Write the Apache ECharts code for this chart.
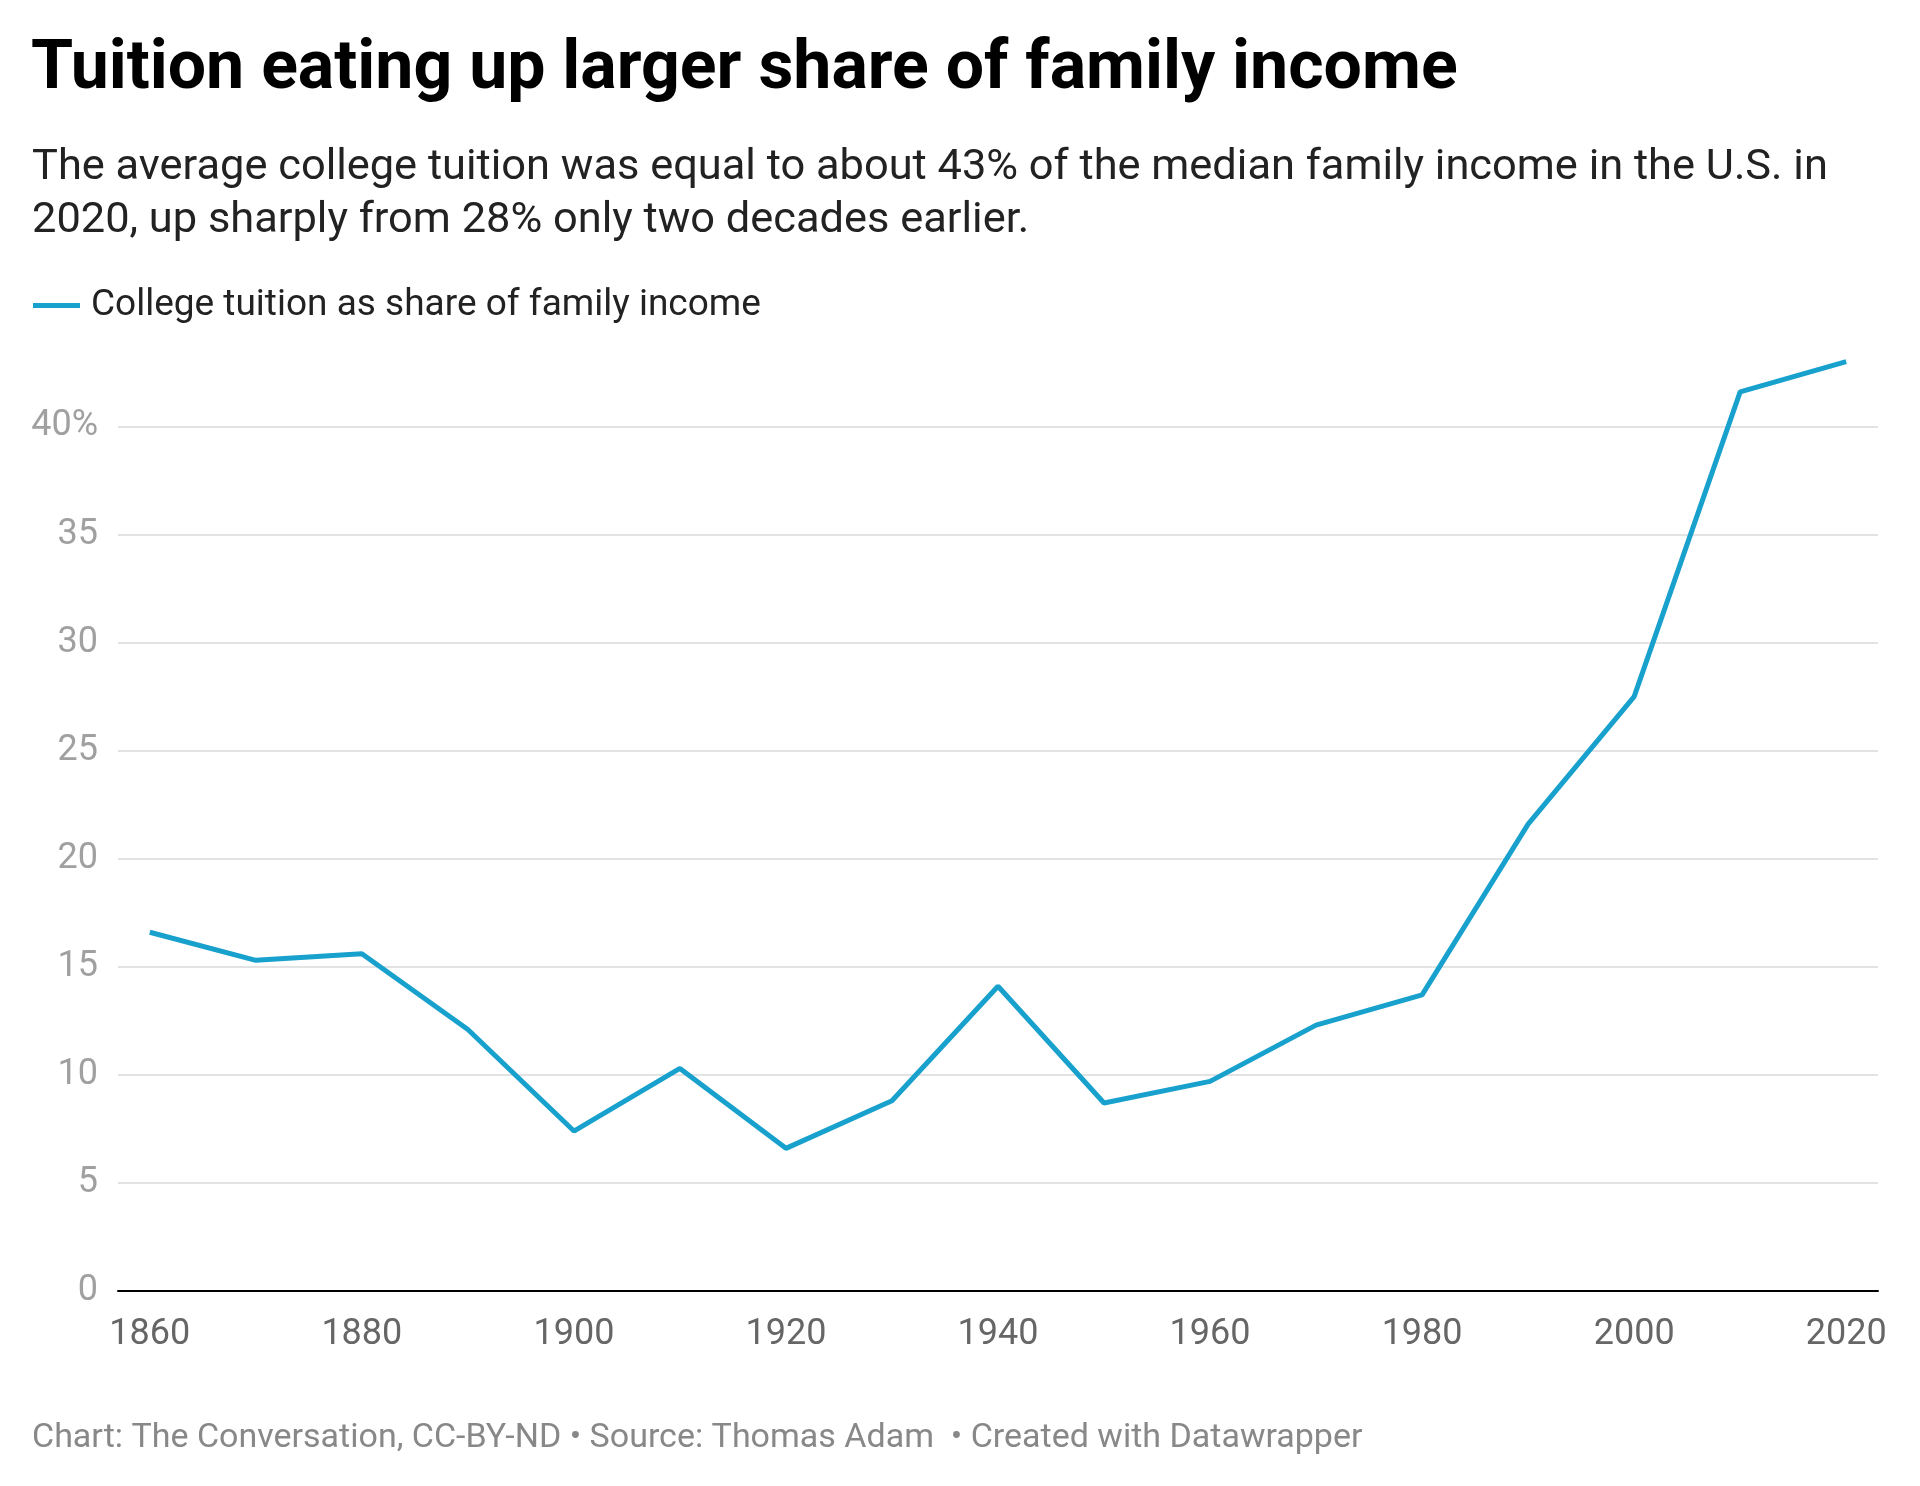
<!DOCTYPE html>
<html>
<head>
<meta charset="utf-8">
<script src="https://cdn.jsdelivr.net/npm/echarts@6/dist/echarts.min.js"></script>
<style>
html,body{margin:0;padding:0;background:#fff;}
#chart{width:1920px;height:1486px;}
</style>
</head>
<body>
<div id="chart"></div>
<script>
const years = [1860,1870,1880,1890,1900,1910,1920,1930,1940,1950,1960,1970,1980,1990,2000,2010,2020];
const tuitionShare = [16.6,15.3,15.6,12.1,7.4,10.3,6.6,8.8,14.1,8.7,9.7,12.3,13.7,21.6,27.5,41.6,43.0];
const xTickLabels = [1860,1880,1900,1920,1940,1960,1980,2000,2020];
const seriesName = 'College tuition as share of family income';
const titleText = 'Tuition eating up larger share of family income';
const subtitleText = 'The average college tuition was equal to about 43% of the median family income in the U.S. in\n2020, up sharply from 28% only two decades earlier.';
const footerText = 'Chart: The Conversation, CC-BY-ND \u2022 Source: Thomas Adam  \u2022 Created with Datawrapper';

const chart = echarts.init(document.getElementById('chart'), null, {renderer:'canvas'});
const FONT = 'Roboto';
chart.setOption({
  backgroundColor:'#fff',
  animation:false,
  textStyle:{fontFamily:FONT},
  title:[
    {text:titleText,left:31,top:37,padding:0,textStyle:{fontFamily:FONT,fontSize:68,fontWeight:'bold',color:'#000'}},
    {text:subtitleText,left:32,top:142,padding:0,textStyle:{fontFamily:FONT,fontSize:43.4,fontWeight:'normal',color:'#222',lineHeight:53}},
    {text:footerText,left:32,top:1421,padding:0,textStyle:{fontFamily:FONT,fontSize:34,fontWeight:'normal',color:'#888'}}
  ],
  legend:{
    left:33,top:287,padding:0,icon:'rect',itemWidth:47,itemHeight:5,itemGap:10,
    textStyle:{fontFamily:FONT,fontSize:37,color:'#222',padding:[0,0,0,6]},
    data:[seriesName]
  },
  grid:{left:118,right:42,top:340,bottom:195,containLabel:false},
  xAxis:{
    type:'value',min:1857,max:2023,
    axisLine:{show:true,onZero:false,lineStyle:{color:'#000',width:2}},
    axisTick:{show:false},
    splitLine:{show:false},
    axisLabel:{customValues:xTickLabels,fontFamily:FONT,fontSize:36,color:'#666',margin:26,formatter:v=>String(v)}
  },
  yAxis:{
    type:'value',min:0,max:44,interval:5,
    axisLine:{show:false},axisTick:{show:false},
    splitLine:{show:true,showMaxLine:false,lineStyle:{color:'#e3e3e3',width:2}},
    axisLabel:{showMaxLabel:false,fontFamily:FONT,fontSize:36,color:'#a0a0a0',margin:20,
      formatter:v=>v===40?'40%':String(v)}
  },
  series:[{
    name:seriesName,type:'line',
    data:years.map((y,i)=>[y,tuitionShare[i]]),
    showSymbol:false,symbol:'none',
    lineStyle:{color:'#18a1cd',width:5},
    itemStyle:{color:'#18a1cd'}
  }]
});
</script>
</body>
</html>
